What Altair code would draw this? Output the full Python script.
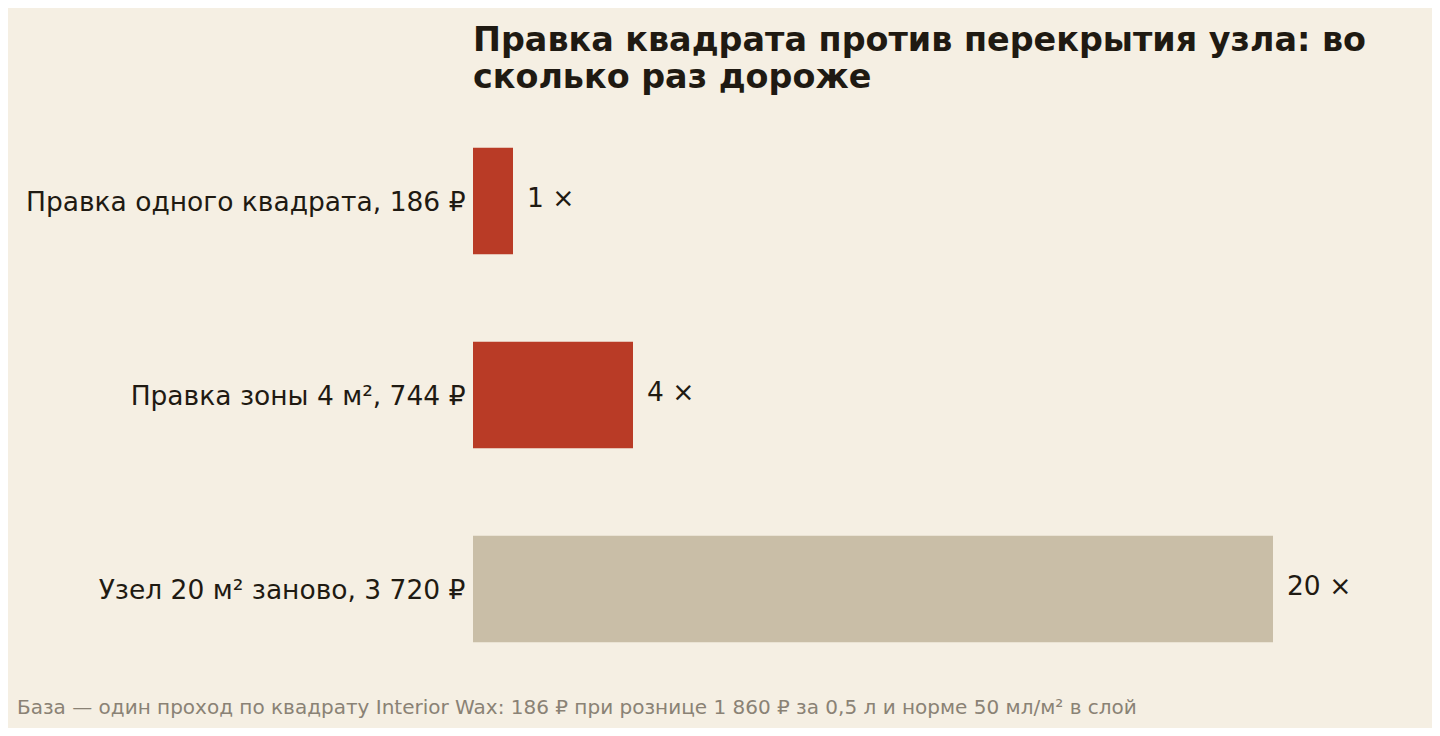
import pandas as pd
import altair as alt

# Chart values
labels = [
    "Правка одного квадрата, 186 ₽",
    "Правка зоны 4 м², 744 ₽",
    "Узел 20 м² заново, 3 720 ₽",
]
multipliers = [1, 4, 20]
kinds = ["правка", "правка", "узел"]

title_lines = ["Правка квадрата против перекрытия узла: во", "сколько раз дороже"]
footnote = "База — один проход по квадрату Interior Wax: 186 ₽ при рознице 1 860 ₽ за 0,5 л и норме 50 мл/м² в слой"

df = pd.DataFrame({"label": labels, "mult": multipliers, "kind": kinds})
df["mult_text"] = df["mult"].astype(str) + " ×"

W, H = 800, 582
FONT = "DejaVu Sans"
INK = "#1f1a12"

y_enc = alt.Y("label:N", sort=labels, title=None,
              scale=alt.Scale(paddingInner=0.45, paddingOuter=0.225),
              axis=alt.Axis(labelFontSize=26.5, labelColor=INK, labelFont=FONT, labelOffset=2,
                            labelPadding=8, ticks=False, domain=False, labelLimit=600))
x_enc = alt.X("mult:Q", title=None, scale=alt.Scale(domain=[0, 20], nice=False), axis=None)

bars = alt.Chart(df).mark_bar().encode(
    x=x_enc,
    y=y_enc,
    color=alt.Color("kind:N", legend=None,
                    scale=alt.Scale(domain=["правка", "узел"], range=["#b93b26", "#c9bea7"])),
)

values = alt.Chart(df).mark_text(align="left", baseline="middle", dx=14, dy=-2,
                                 fontSize=26.5, font=FONT, color=INK).encode(
    x=x_enc,
    y=y_enc,
    text="mult_text:N",
)

# footnote sits below the plot, starting near the left edge of the page
note = alt.Chart(pd.DataFrame({"t": [footnote]})).mark_text(
    align="left", baseline="alphabetic", fontSize=20, font=FONT, color="#8a8275"
).encode(x=alt.value(-456), y=alt.value(H + 28), text="t:N")

chart = (bars + values + note).properties(
    width=W, height=H,
    autosize=alt.AutoSizeParams(type="none"),
    padding={"left": 465, "top": 96, "right": 159, "bottom": 42},
    background="#f5efe3",
    title=alt.TitleParams(title_lines, anchor="start", frame="group", fontSize=33.4, font=FONT,
                          fontWeight="bold", color=INK, lineHeight=37, offset=9),
).configure_view(strokeWidth=0)

chart.save("out.html", embed_options={"renderer": "svg", "actions": False})
